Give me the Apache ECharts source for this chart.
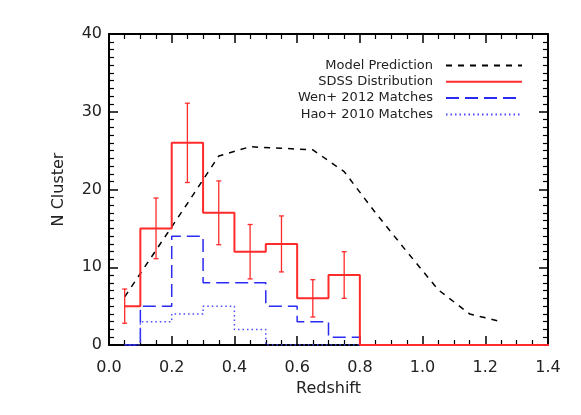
<!DOCTYPE html>
<html>
<head>
<meta charset="utf-8">
<script src="https://cdn.jsdelivr.net/npm/echarts@6/dist/echarts.min.js"></script>
<style>
  html, body { margin: 0; padding: 0; background: #fff; }
  #main { width: 581px; height: 415px; }
</style>
</head>
<body>
<div id="main"></div>
<script>
// bin centres (redshift) and counts
const zBins = [0.05, 0.15, 0.25, 0.35, 0.45, 0.55, 0.65, 0.75, 0.85, 0.95, 1.05, 1.15, 1.25, 1.35, 1.45];
const sdss = [5, 15, 26, 17, 12, 13, 6, 9, 0, 0, 0, 0, 0, 0, 0];
const sdssErr = [2.2, 3.9, 5.1, 4.1, 3.5, 3.6, 2.4, 3.0];
const wen = [0, 5, 14, 8, 8, 5, 3, 1, 0, 0, 0, 0, 0, 0, 0];
const hao = [0, 3, 4, 5, 2, 0, 0, 0, 0, 0, 0, 0, 0, 0, 0];
const modelZ = [0.05, 0.15, 0.25, 0.35, 0.45, 0.55, 0.65, 0.75, 0.85, 0.95, 1.05, 1.15, 1.25];
const model = [6.2, 12.2, 18.2, 24.3, 25.5, 25.3, 25.1, 22.3, 17.0, 12.0, 7.1, 4.0, 3.0];

const RED = '#ff2b2b';
const FONT = 'DejaVu Sans';

let myChart = echarts.init(document.getElementById('main'));

function pairs(xs, ys) {
  return xs.map((x, i) => [x, ys[i]]);
}

// common look of the frame axes
function frameAxis(extra) {
  return Object.assign({
    axisLine: { show: true, onZero: false, lineStyle: { color: '#000', width: 2 } },
    axisTick: { show: true, inside: true, length: 9, lineStyle: { color: '#000', width: 1.5 } },
    splitLine: { show: false }
  }, extra);
}

let option = {
  animation: false,
  backgroundColor: '#fff',
  grid: { left: 109, right: 33, top: 34, bottom: 70 },
  legend: {
    data: ['Model Prediction', 'SDSS Distribution', 'Wen+ 2012 Matches', 'Hao+ 2010 Matches'],
    orient: 'vertical',
    align: 'right',
    right: 53,
    top: 53,
    itemWidth: 76,
    itemHeight: 10,
    itemGap: 1.3,
    selectedMode: false,
    itemStyle: { opacity: 0 },
    textStyle: { fontFamily: FONT, fontSize: 13, color: '#222', lineHeight: 15, padding: [0, 8, 0, 0] }
  },
  xAxis: [
    frameAxis({
      type: 'value', min: 0, max: 1.4, interval: 0.2,
      minorTick: { show: true, splitNumber: 4, length: 5, lineStyle: { color: '#000', width: 1.2 } },
      name: 'Redshift', nameLocation: 'middle', nameGap: 34,
      nameTextStyle: { fontFamily: FONT, fontSize: 16, color: '#222' },
      axisLabel: { margin: 15, fontFamily: FONT, fontSize: 16, color: '#222', formatter: v => v.toFixed(1) }
    }),
    frameAxis({
      type: 'value', min: 0, max: 1.4, interval: 0.2, position: 'top',
      minorTick: { show: true, splitNumber: 4, length: 5, lineStyle: { color: '#000', width: 1.2 } },
      axisLabel: { show: false }
    })
  ],
  yAxis: [
    frameAxis({
      type: 'value', min: 0, max: 40, interval: 10,
      minorTick: { show: true, splitNumber: 10, length: 5, lineStyle: { color: '#000', width: 1.2 } },
      name: 'N Cluster', nameLocation: 'middle', nameGap: 42,
      nameTextStyle: { fontFamily: FONT, fontSize: 16, color: '#222' },
      axisLabel: { margin: 7, fontFamily: FONT, fontSize: 16, color: '#222' }
    }),
    frameAxis({
      type: 'value', min: 0, max: 40, interval: 10, position: 'right',
      minorTick: { show: true, splitNumber: 10, length: 5, lineStyle: { color: '#000', width: 1.2 } },
      axisLabel: { show: false }
    })
  ],
  series: [
    {
      name: 'Model Prediction', type: 'line', symbol: 'none',
      data: pairs(modelZ, model),
      lineStyle: { color: '#000', width: 1.5, type: [6, 6] },
      itemStyle: { color: '#000' }, z: 3
    },
    {
      name: 'Wen+ 2012 Matches', type: 'line', step: 'middle', symbol: 'none',
      data: pairs(zBins, wen),
      lineStyle: { color: '#2a2af5', width: 1.5, type: [13, 6] },
      itemStyle: { color: '#2a2af5' }, z: 3
    },
    {
      name: 'Hao+ 2010 Matches', type: 'line', step: 'middle', symbol: 'none',
      data: pairs(zBins, hao),
      lineStyle: { color: '#4a4aff', width: 1.5, type: [1.5, 3] },
      itemStyle: { color: '#4a4aff' }, z: 3
    },
    {
      name: 'SDSS Distribution', type: 'line', step: 'middle', symbol: 'none',
      data: pairs(zBins, sdss),
      lineStyle: { color: RED, width: 2 },
      itemStyle: { color: RED }, z: 4
    },
    {
      name: 'SDSS errors', type: 'custom', z: 4,
      data: sdssErr.map((e, i) => [zBins[i], sdss[i], e]),
      renderItem: function (params, api) {
        const x = api.value(0), y = api.value(1), e = api.value(2);
        const top = api.coord([x, y + e]);
        const bot = api.coord([x, y - e]);
        const w = 2.5;
        const st = { stroke: RED, lineWidth: 1.3 };
        return {
          type: 'group',
          children: [
            { type: 'line', shape: { x1: top[0], y1: top[1], x2: bot[0], y2: bot[1] }, style: st },
            { type: 'line', shape: { x1: top[0] - w, y1: top[1], x2: top[0] + w, y2: top[1] }, style: st },
            { type: 'line', shape: { x1: bot[0] - w, y1: bot[1], x2: bot[0] + w, y2: bot[1] }, style: st }
          ]
        };
      }
    }
  ]
};

myChart.setOption(option);
</script>
</body>
</html>
